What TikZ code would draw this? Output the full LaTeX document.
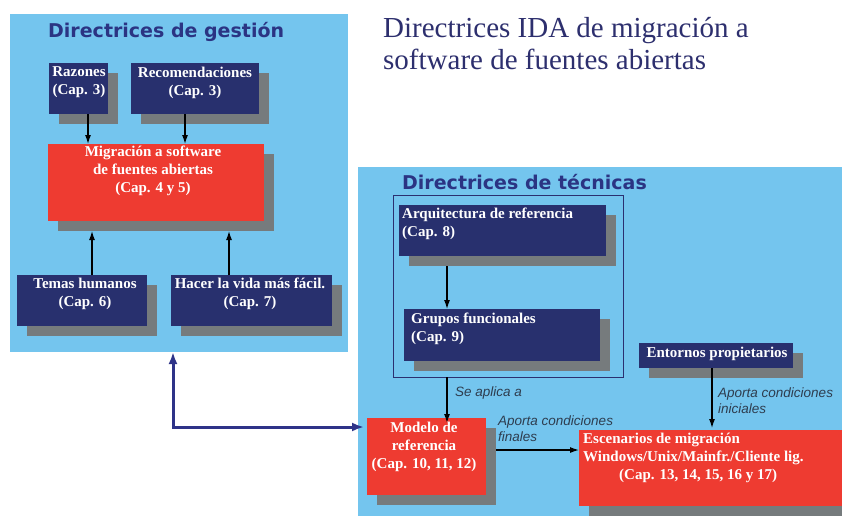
\documentclass[tikz,border=0pt]{standalone}
\usepackage{fontspec}
\setmainfont{Liberation Serif}
\newfontfamily\headfont{DejaVu Sans}
\newfontfamily\labfont{Liberation Sans}
\usetikzlibrary{arrows.meta,shadows,calc,fit}
\definecolor{bgblue}{HTML}{74C5EE}
\definecolor{navybox}{HTML}{28306E}
\definecolor{redbox}{HTML}{EE3B31}
\definecolor{shgray}{HTML}{767B7D}
\definecolor{titlecol}{HTML}{2B3483}
\definecolor{maincol}{HTML}{2D2F6E}
\definecolor{labcol}{HTML}{2E3D4F}
\definecolor{framecol}{HTML}{2B3070}
\definecolor{bigcol}{HTML}{2E3388}
\begin{document}
\begin{tikzpicture}[x=1pt,y=-1pt,
  panel/.style={fill=bgblue, inner sep=0pt, outer sep=0pt},
  nbox/.style={fill=navybox, inner sep=0pt, outer sep=0pt,
    general shadow={fill=shgray, shadow xshift=10pt, shadow yshift=-10pt}},
  rbox/.style={nbox, fill=redbox},
  btxt/.style={text=white, font=\fontsize{15}{18}\selectfont\bfseries, inner sep=0pt, align=center},
  lab/.style={text=labcol, font=\labfont\itshape\fontsize{13.5}{16}\selectfont, inner sep=0pt, align=left},
  arr/.style={-{Latex[length=9pt,width=6pt]}, line width=1.2pt, draw=black},
  big/.style={{Latex[length=12pt,width=9pt]}-{Latex[length=12pt,width=9pt]}, line width=3pt, draw=bigcol},
  head/.style={anchor=base west, inner sep=0pt, text=titlecol, font=\headfont\bfseries\fontsize{19}{21}\selectfont},
  mtitle/.style={anchor=base west, inner sep=0pt, text=maincol, font=\fontsize{29}{32}\selectfont},
]
\fill[white] (0,0) rectangle (842,516);
\useasboundingbox (0,0) rectangle (842,516);

% panels
\node[panel, fit={(10,14)(348,352)}] (lp) {};
\node[panel, fit={(358,167)(842,516)}] (rp) {};
\node[draw=framecol, line width=0.8pt, inner sep=0pt, fit={(393,195)(623,377)}] (fr) {};

% boxes
\node[nbox, fit={(49,63)(108,114)}] (raz) {};
\node[nbox, fit={(131,63)(259,114)}] (rec) {};
\node[rbox, fit={(48,144)(264,221)}] (mig) {};
\node[nbox, fit={(17,275)(147,326)}] (tem) {};
\node[nbox, fit={(171,275)(332,326)}] (hac) {};
\node[nbox, fit={(399,205)(606,256)}] (arq) {};
\node[nbox, fit={(404,309)(600,361)}] (gru) {};
\node[nbox, fit={(639,343)(793,368)}] (ent) {};
\node[rbox, fit={(367,418)(486,495)}] (mod) {};
\node[rbox, fit={(579,430)(842,506)}] (esc) {};

% arrows
\draw[arr] ($(raz.south)+(9.5,0)$) -- ($(raz.south |- mig.north)+(9.5,0)$);
\draw[arr] ($(rec.south)+(-10,0)$) -- ($(rec.south |- mig.north)+(-10,0)$);
\draw[arr] ($(tem.north)+(10,0)$) -- ($(tem.north |- mig.south)+(10,10)$);
\draw[arr] ($(hac.north)+(-22.5,0)$) -- ($(hac.north |- mig.south)+(-22.5,10)$);
\draw[arr] ($(arq.south)+(-55.5,10)$) -- ($(arq.south |- gru.north)+(-55.5,0)$);
\draw[arr] ($(fr.south -| mod.north)+(20.5,0)$) -- ($(mod.north)+(20.5,5)$);
\draw[arr] ($(ent.south)+(-4,0)$) -- ($(ent.south |- esc.north)+(-4,-2)$);
\draw[arr] ($(mod.east)+(10,-6.5)$) -- ($(mod.east -| esc.west)+(0,-6.5)$);
\draw[big] ($(lp.south west)+(163,0)$) |- ($(mod.north west)+(-3,9)$);

% box texts
\node[btxt] (traz) at (79,82.5) {Razones\\(Cap. 3)};
\node[btxt] (trec) at (195,82.5) {Recomendaciones\\(Cap. 3)};
\node[btxt] (tmig) at (153,170.5) {Migración a software\\de fuentes abiertas\\(Cap. 4 y 5)};
\node[btxt] (ttem) at (85,293.5) {Temas humanos\\(Cap. 6)};
\node[btxt] (thac) at (250,293.5) {Hacer la vida más fácil.\\(Cap. 7)};
\node[btxt, align=left, anchor=west] (tarq) at (402,224) {Arquitectura de referencia\\(Cap. 8)};
\node[btxt, align=left, anchor=west] (tgru) at (411,329) {Grupos funcionales\\(Cap. 9)};
\node[btxt] (tent) at (717,354) {Entornos propietarios};
\node[btxt] (tmod) at (424,447) {Modelo de\\referencia\\(Cap. 10, 11, 12)};
\node[btxt, align=left, anchor=west] (tesc) at (583,458) {Escenarios de migración\\Windows/Unix/Mainfr./Cliente lig.\\\hspace*{36pt}(Cap. 13, 14, 15, 16 y 17)};

% connector labels
\node[lab, anchor=west] (lsa) at (455,393) {Se aplica a};
\node[lab, anchor=west] (lfin) at (498,429) {Aporta condiciones\\finales};
\node[lab, anchor=west] (lini) at (718,401) {Aporta condiciones\\iniciales};

% titles
\node[head] (hg) at (48,38) {Directrices de gestión};
\node[head] (ht) at (402,189) {Directrices de técnicas};
\node[mtitle] (m1) at (383,38) {Directrices IDA de migración a};
\node[mtitle] (m2) at (383,70) {software de fuentes abiertas};
\end{tikzpicture}
\end{document}
